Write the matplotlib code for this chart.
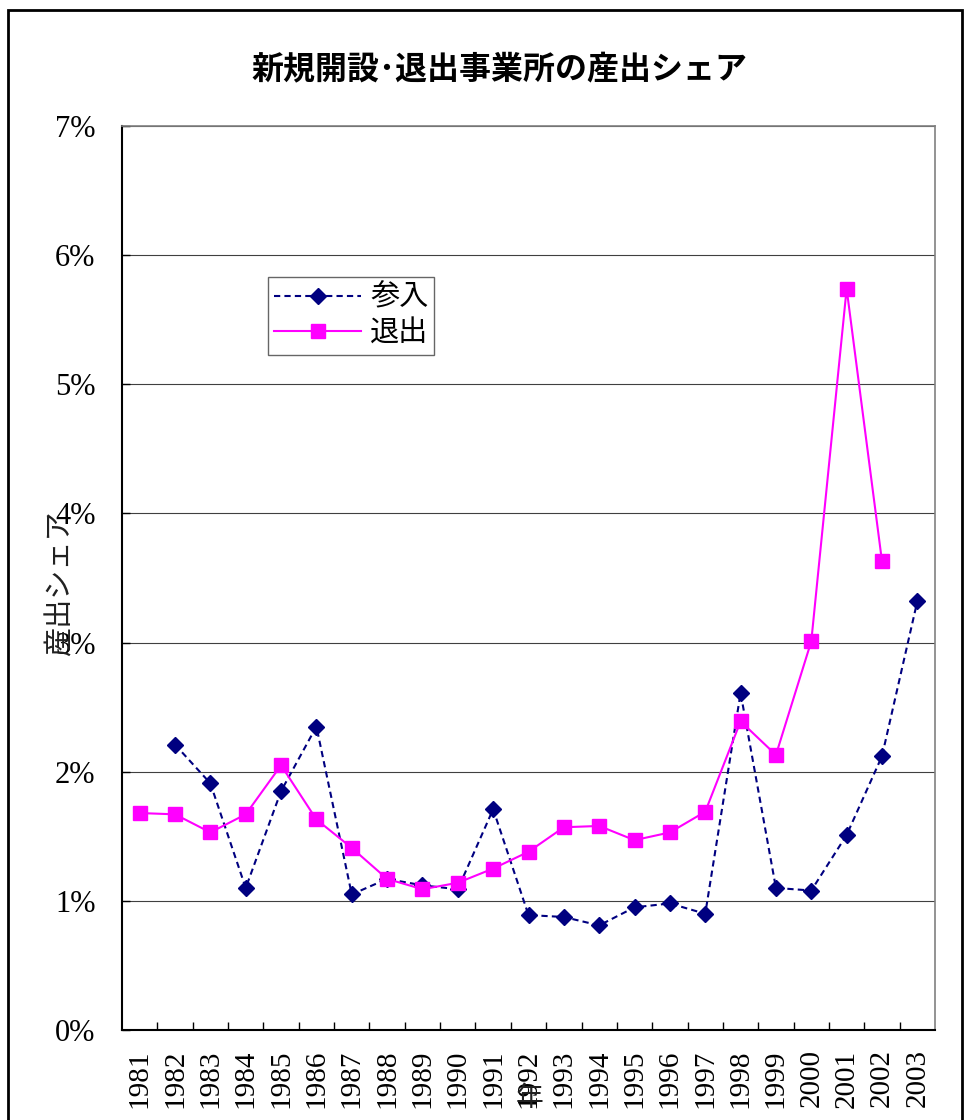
import matplotlib.pyplot as plt
from matplotlib.patches import Rectangle
from matplotlib.ticker import FixedLocator, PercentFormatter

# data (percent)
years = [str(y) for y in range(1981, 2004)]
entry = [None, 2.21, 1.91, 1.10, 1.85, 2.35, 1.05, 1.17, 1.12, 1.09, 1.71, 0.89,
         0.875, 0.81, 0.95, 0.98, 0.90, 2.61, 1.10, 1.08, 1.51, 2.12, 3.32]
exit_ = [1.68, 1.67, 1.53, 1.67, 2.05, 1.63, 1.41, 1.17, 1.09, 1.14, 1.25, 1.38,
         1.57, 1.58, 1.47, 1.53, 1.69, 2.39, 2.13, 3.01, 5.74, 3.63, None]

serif = ['Liberation Serif', 'DejaVu Serif']
jp = ['Noto Sans CJK JP', 'DejaVu Sans']

fig = plt.figure(figsize=(9.65, 11.2), dpi=100)
W, H = 965, 1120
ax = fig.add_axes([122 / W, 1 - 1030 / H, (935 - 122) / W, (1030 - 126) / H])

x = list(range(len(years)))
ex = [i for i, v in zip(x, entry) if v is not None]
ev = [v for v in entry if v is not None]
xx = [i for i, v in zip(x, exit_) if v is not None]
xv = [v for v in exit_ if v is not None]

ax.plot(ex, ev, color='#000080', linestyle='--', linewidth=1.5, dashes=(3, 2),
        marker='D', markersize=8, markerfacecolor='#000080', markeredgecolor='#000080',
        label='参入', zorder=3)
ax.plot(xx, xv, color='#FF00FF', linestyle='-', linewidth=1.5,
        marker='s', markersize=10, markerfacecolor='#FF00FF', markeredgecolor='#FF00FF',
        label='退出', zorder=3)

ax.set_xlim(-0.5, len(years) - 0.5)
ax.set_ylim(0, 7)
ax.set_yticks(range(0, 8))
ax.yaxis.set_major_formatter(PercentFormatter(decimals=0))
ax.grid(axis='y', color='#404040', linewidth=0.8)
ax.set_axisbelow(True)

ax.set_xticks(x)
ax.set_xticklabels(years, rotation=90, fontsize=21, family=serif)
ax.tick_params(axis='x', which='major', length=0, pad=14)
ax.xaxis.set_minor_locator(FixedLocator([i - 0.5 for i in range(1, len(years))]))
ax.tick_params(axis='x', which='minor', direction='in', length=6, width=1, color='black')
ax.tick_params(axis='y', direction='in', length=6, width=1, labelsize=22, pad=19)
for lab in ax.get_yticklabels():
    lab.set_family(serif)

for s in ['left', 'bottom']:
    ax.spines[s].set_color('black')
    ax.spines[s].set_linewidth(1.5)
for s in ['top', 'right']:
    ax.spines[s].set_color('#808080')
    ax.spines[s].set_linewidth(1.2)

leg = ax.legend(loc='upper left', bbox_to_anchor=((268 - 122) / 813, 1 - (277 - 126) / 904),
                prop={'family': jp, 'size': 21}, frameon=True, fancybox=False,
                handlelength=3.0, borderpad=0.2, labelspacing=0.2, handletextpad=0.3,
                borderaxespad=0)
leg.get_frame().set_edgecolor('#404040')
leg.get_frame().set_linewidth(1)

fig.text(60 / W, 1 - 583 / H, '産出シェア', rotation=90, ha='center', va='center',
         family=jp, fontsize=21, color='#202020')
fig.text(530 / W, 1 - 1098 / H, '年', ha='center', va='center', family=jp,
         fontsize=20, color='#202020')
fig.text(499 / W, 1 - 70 / H, '新規開設･退出事業所の産出シェア', ha='center', va='center',
         family=jp, fontsize=23, fontweight='bold')

# outer chart border
fig.patches.append(Rectangle((8 / W, -0.01), (962 - 8) / W, 1 - 10 / H + 0.01,
                             transform=fig.transFigure, fill=False,
                             edgecolor='black', linewidth=2))

fig.savefig('out.png', dpi=100)
